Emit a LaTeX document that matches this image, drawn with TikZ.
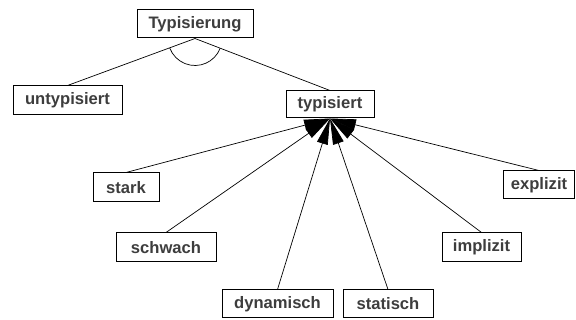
\documentclass[tikz,border=0pt]{standalone}
\usepackage{fontspec}
\setmainfont{Liberation Sans}
\usetikzlibrary{arrows.meta}
\begin{document}
\begin{tikzpicture}[x=1pt,y=-1pt,
  box/.style={draw=black, line width=1pt, fill=white, inner sep=0pt,
    font=\bfseries\fontsize{16.6}{18}\selectfont, text=black!76},
  link/.style={draw=black, line width=0.7pt},
  spec/.style={link, -{Triangle[length=26pt,width=11pt]}}]
  \useasboundingbox[fill=white] (0,0) rectangle (576,320);
  % root with its two alternatives
  \node[box, minimum width=116pt, minimum height=28pt] (T) at (195,24) {Typisierung};
  \node[box, minimum width=109pt, minimum height=29pt] (u) at (67.5,100.5) {untypisiert};
  \node[box, minimum width=88pt, minimum height=27pt] (t) at (330,104.5) {typisiert};
  % kinds of typing
  \node[box, minimum width=66pt, minimum height=29pt] (st) at (126,187.5) {stark};
  \node[box, minimum width=100pt, minimum height=29pt] (sw) at (166,247.5) {schwach};
  \node[box, minimum width=111pt, minimum height=28pt] (dy) at (277.5,304) {dynamisch};
  \node[box, minimum width=90pt, minimum height=28pt] (sa) at (388,304) {statisch};
  \node[box, minimum width=79pt, minimum height=29pt] (im) at (481.5,247.5) {implizit};
  \node[box, minimum width=71pt, minimum height=28pt] (ex) at (539,185) {explizit};
  % decomposition of the root
  \draw[link] (T.south) -- (u.north);
  \draw[link] (T.south) -- (t.north);
  \draw[link] ([shift={(21.4:27)}]T.south) arc[start angle=21.4, end angle=159.4, radius=27];
  % specialisations pointing to typisiert
  \foreach \n in {st,sw,dy,sa,im,ex}
    \draw[spec] (\n.north) -- (t.south);
\end{tikzpicture}
\end{document}
